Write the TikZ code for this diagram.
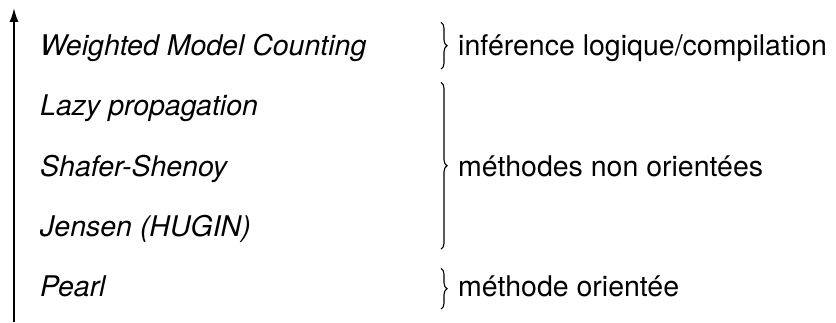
\documentclass[tikz,border=0pt]{standalone}
\usepackage{fontspec}
\setmainfont{TeX Gyre Heros}
\usepackage{tikz}
\usetikzlibrary{calc,positioning,arrows.meta,decorations.pathreplacing}

\tikzset{
	item/.style={anchor=base west,inner xsep=0pt,inner ysep=13pt,text height=20.5pt,text depth=0pt,font=\fontsize{28.5}{34}\selectfont\itshape},
	grp/.style={anchor=base west,inner sep=0pt,font=\fontsize{28.5}{34}\selectfont},
	grpbrace/.style={decorate,decoration={brace,amplitude=6pt},line width=1.1pt},
	axis/.style={line width=1.6pt,-{Latex[length=14pt,width=9pt]}}
}

\begin{document}
\begin{tikzpicture}[x=1pt,y=1pt]
		\useasboundingbox (0,0) rectangle (836,322);
		\node[item] (wmc) at (40,266) {Weighted Model Counting};
		\node[item] (lazy) at (40,206) {Lazy propagation};
		\node[item] (shafer) at (40,146) {Shafer-Shenoy};
		\node[item] (jensen) at (40,86) {Jensen (HUGIN)};
		\node[item] (pearl) at (40,26) {Pearl};
		\coordinate (bot) at (14,0);
		\coordinate (top) at (14,314);
		\draw[axis] (bot) -- (top);
		\coordinate (brx) at (441,0);
		\draw[grpbrace] (brx |- wmc.north) -- (brx |- wmc.south);
		\draw[grpbrace] (brx |- lazy.north) -- (brx |- jensen.south);
		\draw[grpbrace] ([yshift=-6pt]brx |- pearl.north) -- (brx |- pearl.south);
		\node[grp] (logic) at ([xshift=17pt]brx |- wmc.base) {inférence logique/compilation};
		\node[grp] (nonor) at ([xshift=17pt]brx |- shafer.base) {méthodes non orientées};
		\node[grp] (orient) at ([xshift=17pt]brx |- pearl.base) {méthode orientée};
\end{tikzpicture}
\end{document}
